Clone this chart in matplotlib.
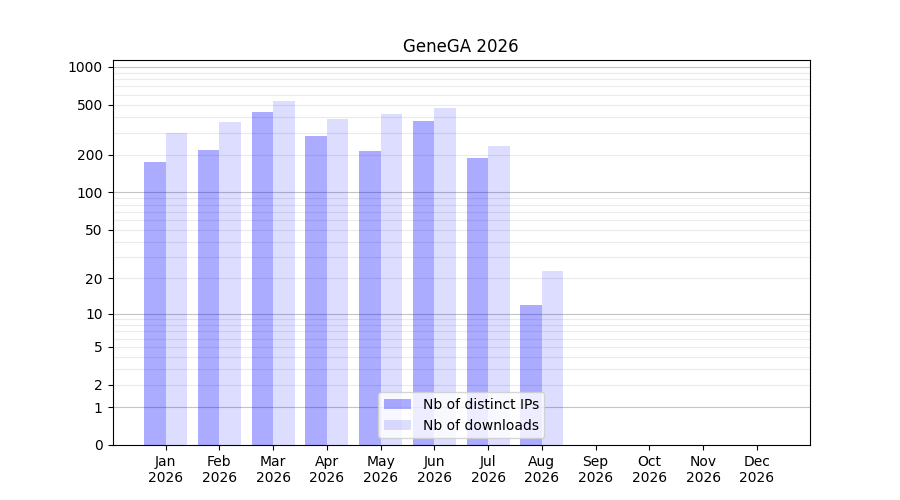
import numpy as np
import matplotlib
matplotlib.use("Agg")
import matplotlib.pyplot as plt

months = ["Jan", "Feb", "Mar", "Apr", "May", "Jun",
          "Jul", "Aug", "Sep", "Oct", "Nov", "Dec"]
year = "2026"
distinct_ips = [176, 218, 438, 282, 214, 372, 189, 12, 0, 0, 0, 0]
downloads = [299, 365, 536, 386, 423, 472, 235, 23, 0, 0, 0, 0]
y_ticks = [0, 1, 2, 5, 10, 20, 50, 100, 200, 500, 1000]


def fwd(v):
    return np.log10(1 + np.clip(v, 0, None))


def inv(v):
    return 10 ** v - 1


fig, ax = plt.subplots(figsize=(9, 5), dpi=100)
ax.set_yscale("function", functions=(fwd, inv))

x = np.arange(len(months))
w = 0.4
ax.bar(x - w / 2, distinct_ips, width=w, color="blue", alpha=0.33,
       label="Nb of distinct IPs", zorder=2)
ax.bar(x + w / 2, downloads, width=w, color="blue", alpha=0.133,
       label="Nb of downloads", zorder=2)

# grid: darker on decades, light on the in-between values
for dec in [1, 10, 100]:
    for k in range(2, 10):
        ax.axhline(k * dec, color="#ebebeb", lw=0.8, zorder=1)
for v in [1, 10, 100, 1000]:
    ax.axhline(v, color="#c4c4c4", lw=0.8, zorder=1)

ax.set_yticks(y_ticks)
ax.set_yticklabels([str(t) for t in y_ticks])
ax.minorticks_off()
ax.set_ylim(0, 1136)

ax.set_xticks(x)
ax.set_xticklabels([f"{m}\n{year}" for m in months])

ax.set_title("GeneGA 2026")
ax.legend(loc="lower center")

fig.savefig("out.png")
